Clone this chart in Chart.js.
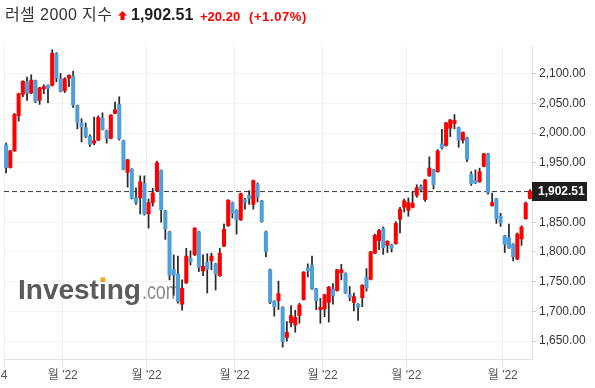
<!DOCTYPE html>
<html>
<head>
<meta charset="utf-8">
<script src="https://cdn.jsdelivr.net/npm/chart.js@4.4.0/dist/chart.umd.min.js"></script>
<style>
  html, body { margin: 0; padding: 0; background: #fff; }
  #wrap { position: relative; width: 595px; height: 388px; overflow: hidden; }
  #graph { position: absolute; left: 0; top: 0; }
  .t {
    position: absolute; line-height: 1; white-space: nowrap;
    font-family: Arial, "Liberation Sans", "Noto Sans CJK KR", sans-serif;
  }
  .name { left: 5px; top: 7px; font-size: 16px; color: #333; letter-spacing: 0.4px; }
  .arrow { position: absolute; left: 118px; top: 11px; }
  .price { left: 131px; top: 7px; font-size: 16px; font-weight: bold; color: #222; }
  .chg { top: 10px; font-size: 13px; font-weight: bold; color: #f00; }
</style>
</head>
<body>
<div id="wrap">
  <canvas id="graph" width="595" height="388"></canvas>
  <span class="t name">러셀 2000 지수</span>
  <svg class="arrow" width="9" height="9" viewBox="0 0 9 9"><polygon points="4.5,0 9,4.5 6.5,4.5 6.5,9 2.5,9 2.5,4.5 0,4.5" fill="#f00"/></svg>
  <span class="t price">1,902.51</span>
  <span class="t chg" style="left:200px">+20.20</span>
  <span class="t chg" style="left:249px;letter-spacing:0.6px">(+1.07%)</span>
</div>
<script>
// daily OHLC, Mar 14 2022 .. Sep 12 2022
const open = [
  1980, 1942, 1970, 2029, 2065, 2086, 2067, 2088, 2055, 2074, 2080, 2080, 2133, 2091, 2071, 2092,
  2096, 2046, 2017, 2009, 1994, 1983, 1988, 2025, 2004, 1991, 2033, 2048, 1987, 1934, 1939, 1891,
  1891, 1915, 1864, 1883, 1903, 1937, 1869, 1834, 1771, 1763, 1712, 1748, 1790, 1795, 1834, 1768,
  1783, 1785, 1780, 1760, 1810, 1844, 1883, 1870, 1854, 1888, 1895, 1880, 1914, 1886, 1834, 1770,
  1717, 1718, 1707, 1656, 1681, 1677, 1693, 1720, 1773, 1778, 1738, 1703, 1704, 1715, 1738, 1735,
  1765, 1764, 1728, 1715, 1712, 1723, 1757, 1754, 1798, 1819, 1839, 1811, 1812, 1814, 1855, 1875,
  1870, 1875, 1895, 1910, 1888, 1928, 1938, 1935, 1982, 1979, 2008, 2016, 2009, 1988, 1992, 1931,
  1920, 1918, 1944, 1965, 1878, 1889, 1860, 1827, 1824, 1813, 1788, 1822, 1856, 1890
];
const high = [
  1983, 1971, 2033, 2067, 2088, 2094, 2098, 2089, 2077, 2081, 2081, 2140, 2135, 2100, 2093, 2098,
  2104, 2047, 2024, 2017, 1997, 2027, 2029, 2034, 2005, 2031, 2052, 2061, 1988, 1956, 1940, 1908,
  1928, 1928, 1889, 1907, 1953, 1938, 1870, 1835, 1795, 1793, 1753, 1806, 1802, 1841, 1835, 1795,
  1797, 1798, 1781, 1806, 1847, 1888, 1884, 1871, 1899, 1890, 1903, 1921, 1916, 1887, 1835, 1771,
  1718, 1751, 1708, 1683, 1710, 1702, 1714, 1767, 1780, 1793, 1739, 1722, 1729, 1742, 1747, 1771,
  1779, 1765, 1742, 1731, 1713, 1745, 1772, 1801, 1830, 1838, 1842, 1819, 1813, 1851, 1875, 1889,
  1891, 1902, 1913, 1913, 1922, 1960, 1939, 1972, 2006, 2018, 2023, 2031, 2010, 2002, 1993, 1935,
  1938, 1941, 1966, 1966, 1899, 1890, 1865, 1828, 1847, 1814, 1832, 1844, 1884, 1905
];
const low = [
  1933, 1941, 1969, 2020, 2061, 2055, 2066, 2051, 2048, 2066, 2051, 2079, 2086, 2069, 2068, 2078,
  2043, 2007, 1985, 1992, 1977, 1980, 1987, 2005, 1983, 1990, 2032, 1988, 1938, 1909, 1889, 1880,
  1864, 1862, 1840, 1877, 1902, 1850, 1821, 1753, 1727, 1714, 1702, 1747, 1778, 1794, 1767, 1760,
  1731, 1770, 1736, 1759, 1809, 1843, 1857, 1830, 1853, 1872, 1880, 1872, 1884, 1850, 1792, 1713,
  1692, 1703, 1640, 1650, 1674, 1665, 1680, 1719, 1758, 1737, 1703, 1680, 1691, 1682, 1712, 1734,
  1753, 1730, 1718, 1701, 1685, 1708, 1734, 1753, 1797, 1804, 1796, 1799, 1800, 1813, 1832, 1867,
  1860, 1874, 1892, 1901, 1885, 1927, 1906, 1934, 1973, 1978, 1994, 2007, 1976, 1983, 1952, 1912,
  1915, 1917, 1943, 1897, 1877, 1848, 1843, 1799, 1806, 1785, 1787, 1811, 1855, 1889
];
const close = [
  1942, 1970, 2031, 2066, 2087, 2067, 2089, 2053, 2076, 2078, 2075, 2134, 2092, 2070, 2091, 2097,
  2047, 2018, 2010, 1994, 1981, 1987, 2026, 2006, 1991, 2030, 2039, 1990, 1939, 1955, 1890, 1883,
  1918, 1864, 1883, 1899, 1950, 1871, 1839, 1761, 1761, 1717, 1739, 1793, 1784, 1840, 1774, 1776,
  1771, 1793, 1763, 1798, 1838, 1887, 1865, 1854, 1898, 1883, 1890, 1920, 1892, 1851, 1800, 1715,
  1708, 1730, 1649, 1665, 1693, 1690, 1711, 1766, 1768, 1738, 1718, 1707, 1728, 1741, 1726, 1770,
  1770, 1731, 1724, 1725, 1707, 1744, 1739, 1800, 1828, 1836, 1807, 1818, 1806, 1848, 1872, 1886,
  1883, 1882, 1908, 1905, 1921, 1941, 1913, 1970, 1975, 2017, 2022, 2021, 1988, 2001, 1956, 1915,
  1916, 1935, 1965, 1900, 1883, 1856, 1849, 1813, 1807, 1792, 1830, 1842, 1882.31, 1902.51
];

// x tick labels by category index (month starts, clipped as in the source)
const xTickLabels = { 0: "4", 14: "월 '22", 34: "월 '22", 55: "월 '22", 76: "월 '22", 96: "월 '22", 119: "월 '22" };
const yTicks = [1650, 1700, 1750, 1800, 1850, 1900, 1950, 2000, 2050, 2100];
const lastPrice = 1902.51;

const UP = "#ff0000";
const DOWN = "#4f9fdb";
const FONT = "Arial, 'Liberation Sans', 'Noto Sans CJK KR', sans-serif";

const cats = close.map((_, i) => i);
const bodyColors = close.map((c, i) => (c >= open[i] ? UP : DOWN));

const watermark = {
  id: "watermark",
  beforeDatasetsDraw(chart) {
    const ctx = chart.ctx;
    ctx.save();
    ctx.textBaseline = "alphabetic";
    ctx.font = "bold 28px " + FONT;
    ctx.fillStyle = "#5b5b5b";
    ctx.fillText("Investing", 18, 299);
    const wInvest = ctx.measureText("Invest").width;
    const wI = ctx.measureText("i").width;
    const w = ctx.measureText("Investing").width;
    ctx.fillStyle = "#f5a01a";
    ctx.fillRect(18 + wInvest + wI / 2 - 2.3, 277.5, 4.6, 4.4);
    ctx.translate(18 + w + 1, 299);
    ctx.scale(0.78, 1);
    ctx.font = "23px " + FONT;
    ctx.fillStyle = "#8c8c8c";
    ctx.fillText(".com", 0, 0);
    ctx.restore();
  }
};

const priceLine = {
  id: "priceLine",
  beforeDatasetsDraw(chart) {
    const { ctx, chartArea } = chart;
    const y = Math.round(chart.scales.y.getPixelForValue(lastPrice)) + 0.5;
    ctx.save();
    ctx.strokeStyle = "#444";
    ctx.lineWidth = 1;
    ctx.setLineDash([5, 3]);
    ctx.beginPath();
    ctx.moveTo(chartArea.left, y);
    ctx.lineTo(chartArea.right, y);
    ctx.stroke();
    ctx.restore();
  },
  afterDraw(chart) {
    const { ctx, chartArea } = chart;
    const y = chart.scales.y.getPixelForValue(lastPrice);
    ctx.save();
    ctx.fillStyle = "#1e1e1e";
    ctx.fillRect(chartArea.right, y - 9, 55, 19);
    ctx.fillStyle = "#fff";
    ctx.font = "bold 12px " + FONT;
    ctx.textBaseline = "middle";
    ctx.fillText("1,902.51", chartArea.right + 6, y + 1);
    ctx.restore();
  }
};

new Chart(document.getElementById("graph").getContext("2d"), {
  type: "bar",
  data: {
    labels: cats,
    datasets: [
      {
        label: "body",
        data: open.map((o, i) => [o, close[i]]),
        backgroundColor: bodyColors,
        barThickness: 3.4,
        minBarLength: 1.5,
        grouped: false,
        borderWidth: 0
      },
      {
        label: "wick",
        data: low.map((l, i) => [l, high[i]]),
        backgroundColor: "#2b2b2b",
        barThickness: 1.1,
        grouped: false,
        borderWidth: 0
      }
    ]
  },
  options: {
    responsive: false,
    animation: false,
    devicePixelRatio: 1,
    layout: { padding: { top: 45, left: 4, right: 0, bottom: 0 } },
    plugins: { legend: { display: false }, tooltip: { enabled: false } },
    scales: {
      x: {
        offset: true,
        grid: {
          offset: true,
          color: (c) => (xTickLabels[c.index] !== undefined ? "#eeeeee" : "rgba(0,0,0,0)"),
          tickColor: (c) => (xTickLabels[c.index] !== undefined ? "#e6e6e6" : "rgba(0,0,0,0)"),
          tickLength: 9
        },
        border: { color: "#e2e2e2" },
        ticks: {
          autoSkip: false,
          maxRotation: 0,
          padding: 0,
          labelOffset: -2,
          color: "#555",
          font: { size: 12, family: FONT },
          callback: (v, i) => xTickLabels[i] || ""
        },
        afterFit: (s) => { s.height = 29; }
      },
      y: {
        position: "right",
        min: 1620,
        max: 2148,
        afterBuildTicks: (s) => { s.ticks = yTicks.map((v) => ({ value: v })); },
        grid: { color: "#f3f3f3", tickColor: "#cccccc", tickLength: 4 },
        border: { color: "#e0e0e0" },
        ticks: {
          padding: 3,
          color: "#333",
          font: { size: 12, family: FONT },
          callback: (v) => v.toLocaleString("en-US", { minimumFractionDigits: 2, maximumFractionDigits: 2 })
        },
        afterFit: (s) => { s.width = 63; }
      }
    }
  },
  plugins: [watermark, priceLine]
});
</script>
</body>
</html>
